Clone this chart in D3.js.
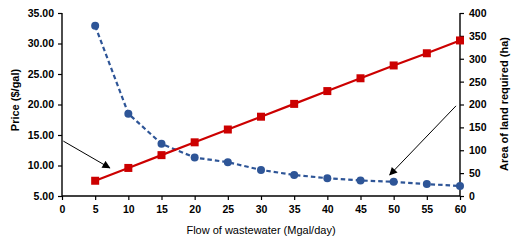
<!DOCTYPE html>
<html>
<head>
<meta charset="utf-8">
<script src="https://cdn.jsdelivr.net/npm/d3@7"></script>
<style>
  html, body { margin: 0; padding: 0; background: #fff; }
  svg { display: block; }
  text { font-family: "Liberation Sans", Arial, sans-serif; fill: #000; }
</style>
</head>
<body>
<svg id="chart" width="514" height="244"></svg>
<script>
// ---- data ----
const flow = [5, 10, 15, 20, 25, 30, 35, 40, 45, 50, 55, 60];
const price = [7.5, 9.6, 11.7, 13.8, 15.9, 18.0, 20.1, 22.2, 24.3, 26.4, 28.4, 30.5];
const area = [372, 180, 114, 84, 74, 57, 46, 39, 34, 31, 26, 22];
const xTicks = [0, 5, 10, 15, 20, 25, 30, 35, 40, 45, 50, 55, 60];
const leftTicks = [5, 10, 15, 20, 25, 30, 35];
const rightTicks = [0, 50, 100, 150, 200, 250, 300, 350, 400];
// annotation arrows (data units: [x, value] on their axis)
const priceArrow = [[0.2, 14.0], [7.2, 9.6]];
const areaArrow = [[59.4, 197], [49.4, 46]];

const svg = d3.select("#chart");
const x = d3.scaleLinear().domain([0, 60]).range([62, 460]);
const yL = d3.scaleLinear().domain([5, 35]).range([196, 13]);
const yR = d3.scaleLinear().domain([0, 400]).range([196, 13]);

svg.append("defs").append("marker")
  .attr("id", "ah").attr("viewBox", "0 0 10 10")
  .attr("refX", 9).attr("refY", 5)
  .attr("markerWidth", 9).attr("markerHeight", 8)
  .attr("markerUnits", "userSpaceOnUse")
  .attr("orient", "auto")
  .append("path").attr("d", "M0,0 L10,5 L0,10 z").attr("fill", "#000");

// axes
const axX = svg.append("g").attr("transform", "translate(0,196)")
  .call(d3.axisBottom(x).tickValues(xTicks).tickSize(4).tickPadding(6));
const axL = svg.append("g").attr("transform", "translate(62,0)")
  .call(d3.axisLeft(yL).tickValues(leftTicks).tickFormat(d3.format(".2f")).tickSize(4).tickPadding(4));
const axR = svg.append("g").attr("transform", "translate(460,0)")
  .call(d3.axisRight(yR).tickValues(rightTicks).tickSize(4).tickPadding(5));
[axX, axL, axR].forEach(g => {
  g.select(".domain").attr("stroke", "#000").attr("stroke-width", 1.4);
  g.selectAll(".tick line").attr("stroke", "#000").attr("stroke-width", 1.2);
  g.selectAll("text").attr("font-size", 10.5).attr("font-weight", "bold")
    .attr("font-family", "Liberation Sans, Arial, sans-serif").attr("fill", "#222");
});
axL.select(".domain").attr("d", "M0,196V13");
axR.select(".domain").attr("d", "M0,196V13");
axX.select(".domain").attr("d", "M62,0H460");

// arrows
[priceArrow, areaArrow].forEach((a, i) => {
  const ys = i === 0 ? yL : yR;
  svg.append("line")
    .attr("x1", x(a[0][0])).attr("y1", ys(a[0][1]))
    .attr("x2", x(a[1][0])).attr("y2", ys(a[1][1]))
    .attr("stroke", "#000").attr("stroke-width", 1)
    .attr("marker-end", "url(#ah)");
});

// blue area series (dashed)
const blue = "#2E5597";
svg.append("path")
  .datum(flow.map((f, i) => [f, area[i]]))
  .attr("fill", "none").attr("stroke", blue).attr("stroke-width", 2.2)
  .attr("stroke-dasharray", "4.5,3")
  .attr("d", d3.line().x(d => x(d[0])).y(d => yR(d[1])));
svg.append("g").selectAll("circle")
  .data(flow.map((f, i) => [f, area[i]]))
  .join("circle")
  .attr("cx", d => x(d[0])).attr("cy", d => yR(d[1])).attr("r", 4)
  .attr("fill", blue);

// red price series
const red = "#CC0000";
svg.append("path")
  .datum(flow.map((f, i) => [f, price[i]]))
  .attr("fill", "none").attr("stroke", red).attr("stroke-width", 2.2)
  .attr("d", d3.line().x(d => x(d[0])).y(d => yL(d[1])));
svg.append("g").selectAll("rect")
  .data(flow.map((f, i) => [f, price[i]]))
  .join("rect")
  .attr("x", d => x(d[0]) - 4).attr("y", d => yL(d[1]) - 4)
  .attr("width", 8).attr("height", 8)
  .attr("fill", red);

// titles
svg.append("text").attr("x", 261).attr("y", 234)
  .attr("text-anchor", "middle").attr("font-size", 11).attr("fill", "#222")
  .text("Flow of wastewater (Mgal/day)");
svg.append("text")
  .attr("transform", "translate(19,100) rotate(-90)")
  .attr("text-anchor", "middle").attr("font-size", 11).attr("font-weight", "bold").attr("fill", "#222")
  .text("Price ($/gal)");
svg.append("text")
  .attr("transform", "translate(508,104) rotate(-90)")
  .attr("text-anchor", "middle").attr("font-size", 11).attr("font-weight", "bold").attr("fill", "#222")
  .text("Area of land required (ha)");
</script>
</body>
</html>
